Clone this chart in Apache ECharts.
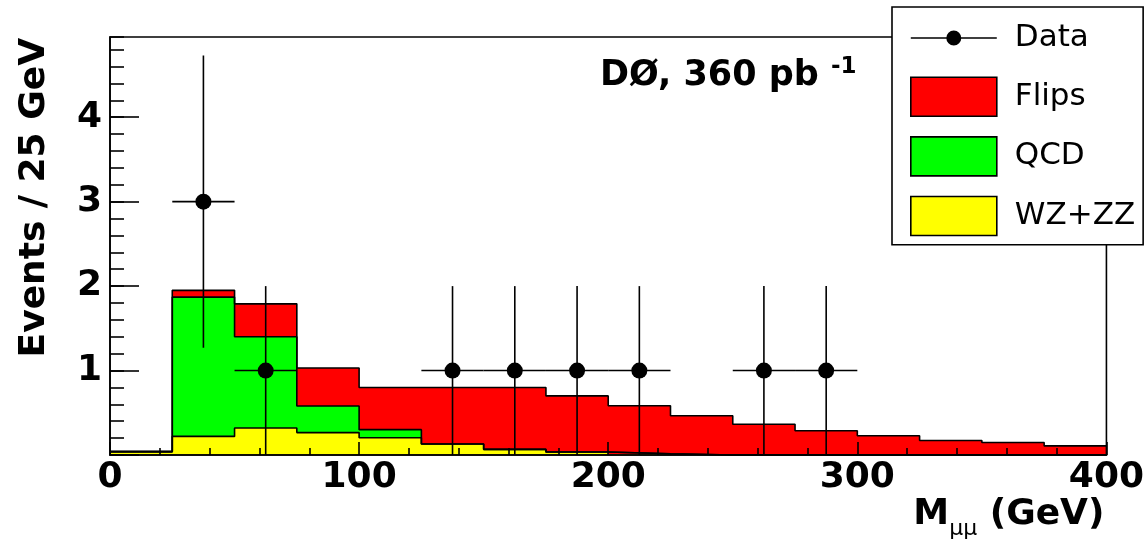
<!DOCTYPE html>
<html><head><meta charset="utf-8">
<script src="https://cdn.jsdelivr.net/npm/echarts@6/dist/echarts.min.js"></script>
<style>html,body{margin:0;padding:0;background:#fff}#c{width:1147px;height:549px}</style>
</head><body><div id="c"></div>
<script>
// ---- data ----
const binEdges = [0,25,50,75,100,125,150,175,200,225,250,275,300,325,350,375,400];
const wzzz  = [0.04,0.22,0.32,0.265,0.205,0.13,0.067,0.035,0.015,0,0,0,0,0,0,0];
const qcd   = [0,1.65,1.08,0.315,0.095,0,0,0,0,0,0,0,0,0,0,0];
const flips = [0,0.08,0.39,0.45,0.50,0.67,0.733,0.665,0.569,0.464,0.364,0.288,0.228,0.172,0.148,0.108];
const dataX = [37.5,62.5,137.5,162.5,187.5,212.5,262.5,287.5];
const dataY = [3,1,1,1,1,1,1,1];
const dataErrLow  = [1.73,1,1,1,1,1,1,1];
const dataErrHigh = [1.73,1,1,1,1,1,1,1];
const xTicks = [0,100,200,300,400];
const yTicks = [1,2,3,4];
const binHalfWidth = 12.5;

const FONT = 'DejaVu Sans';

// ---- derived ----
const layers = [
  {name:'WZ+ZZ', vals:wzzz, color:'#ffff00'},
  {name:'QCD', vals:qcd, color:'#00ff00'},
  {name:'Flips', vals:flips, color:'#ff0000'}
];
let cum = binEdges.slice(0,-1).map(()=>0);
const series = [];
layers.forEach((L,k)=>{
  const items = [];
  const tops = [];
  for (let i=0;i<L.vals.length;i++){
    const base = cum[i], top = cum[i]+L.vals[i];
    items.push([binEdges[i], binEdges[i+1], base, top]);
    tops.push(top);
  }
  cum = tops;
  series.push({
    name:L.name, type:'custom', z:2, clip:true,
    itemStyle:{color:L.color},
    encode:{x:[0,1], y:[2,3]},
    renderItem:(params, api)=>{
      const p0 = api.coord([api.value(0), api.value(3)]);
      const p1 = api.coord([api.value(1), api.value(2)]);
      const x0 = Math.round(p0[0]), x1 = Math.round(p1[0]);
      const y0 = Math.round(p0[1]), y1 = Math.round(p1[1]);
      return {type:'rect', shape:{x:x0, y:y0, width:x1-x0, height:y1-y0},
              style:{fill:api.visual('color'), stroke:null}};
    },
    data:items
  });
  const stepPts = tops.map((t,i)=>[binEdges[i], t]);
  stepPts.push([binEdges[binEdges.length-1], tops[tops.length-1]]);
  series.push({
    name:L.name+' outline', type:'line', step:'end', z:3, silent:true,
    symbol:'none', lineStyle:{color:'#000', width:1.6}, data:stepPts
  });
});

series.push({
  name:'Data errors', type:'custom', z:4, silent:true,
  encode:{x:0, y:1},
  renderItem:(params, api)=>{
    const x = api.value(0), y = api.value(1), lo = api.value(2), hi = api.value(3), hw = api.value(4);
    const a = api.coord([x, y-lo]), b = api.coord([x, y+hi]);
    const c = api.coord([x-hw, y]), d = api.coord([x+hw, y]);
    const st = {stroke:'#000', lineWidth:1.6};
    return {type:'group', children:[
      {type:'line', shape:{x1:a[0], y1:a[1], x2:b[0], y2:b[1]}, style:st},
      {type:'line', shape:{x1:c[0], y1:c[1], x2:d[0], y2:d[1]}, style:st}
    ]};
  },
  data:dataX.map((x,i)=>[x, dataY[i], dataErrLow[i], dataErrHigh[i], binHalfWidth])
});
series.push({
  name:'Data', type:'scatter', z:5, symbol:'circle', symbolSize:16,
  itemStyle:{color:'#000', opacity:1},
  data:dataX.map((x,i)=>[x, dataY[i]])
});

const dataIcon = 'path://M0 0h0.01v0.01h-0.01z M86 38.99h0.01v0.01h-0.01z M0 18.7h36v1.6h-36z M50 18.7h36v1.6h-36z M35.5 19.5a7.5 7.5 0 1 1 15 0a7.5 7.5 0 1 1 -15 0z';

const chart = echarts.init(document.getElementById('c'), null, {renderer:'canvas'});
chart.setOption({
  animation:false,
  backgroundColor:'#fff',
  grid:{left:110, right:35, top:37, bottom:94, show:true, z:10, borderColor:'#000', borderWidth:1.6, backgroundColor:'transparent'},
  xAxis:{
    type:'value', min:0, max:400, interval:100, z:10,
    axisLine:{show:true, onZero:false, lineStyle:{color:'#000', width:1.6}},
    axisTick:{show:true, inside:true, length:13, lineStyle:{color:'#000', width:1.6}},
    minorTick:{show:true, splitNumber:5, length:7, lineStyle:{color:'#000', width:1.6}},
    splitLine:{show:false},
    axisLabel:{fontFamily:FONT, fontSize:36, fontWeight:'bold', color:'#000', margin:5,
      formatter:v=> xTicks.indexOf(v)>=0 ? String(v) : ''},
    name:'{b|M}{s|μμ}{b| (GeV)}', nameLocation:'end', nameGap:-2,
    nameTextStyle:{align:'right', verticalAlign:'top', padding:[35,0,0,0],
      rich:{
        b:{fontFamily:FONT, fontSize:36, fontWeight:'bold', color:'#000', lineHeight:50},
        s:{fontFamily:FONT, fontSize:22, fontWeight:'normal', color:'#000', lineHeight:21, verticalAlign:'bottom'}
      }}
  },
  yAxis:[{
    type:'value', min:0, max:4.95, interval:1, z:10,
    axisLine:{show:true, onZero:false, lineStyle:{color:'#000', width:1.6}},
    axisTick:{show:true, inside:true, length:29, lineStyle:{color:'#000', width:1.6}},
    splitLine:{show:false},
    axisLabel:{fontFamily:FONT, fontSize:36, fontWeight:'bold', color:'#000', margin:8, showMaxLabel:false,
      formatter:v=> yTicks.indexOf(v)>=0 ? String(v) : ''},
    name:'Events / 25 GeV', nameLocation:'end', nameRotate:90, nameGap:-1,
    nameTextStyle:{fontFamily:FONT, fontSize:36, fontWeight:'bold', color:'#000', align:'right', verticalAlign:'bottom', padding:[0,0,57,0]}
  },{
    type:'value', min:0, max:4.95, interval:0.2, z:10, position:'left',
    axisLine:{show:false},
    axisTick:{show:true, inside:true, length:14, lineStyle:{color:'#000', width:1.6}},
    axisLabel:{show:false}, splitLine:{show:false}
  }],
  legend:{
    orient:'vertical', left:892, top:7, padding:[11.5,8,8.5,18], z:20,
    itemWidth:86, itemHeight:39, itemGap:19, selectedMode:false,
    backgroundColor:'#fff', borderColor:'#000', borderWidth:1.6,
    textStyle:{fontFamily:FONT, fontSize:31, color:'#000', padding:[0,0,0,13]},
    itemStyle:{borderColor:'#000', borderWidth:1.6},
    data:[
      {name:'Data', icon:dataIcon, itemStyle:{borderWidth:0, opacity:1}},
      {name:'Flips', icon:'rect'},
      {name:'QCD', icon:'rect'},
      {name:'WZ+ZZ', icon:'rect'}
    ]
  },
  graphic:[{
    type:'text', left:600, top:56, z:30,
    style:{
      text:'{a|DØ, 360 pb }{sup|-1}',
      rich:{
        a:{fontFamily:FONT, fontSize:35, fontWeight:'bold', fill:'#000', lineHeight:40},
        sup:{fontFamily:FONT, fontSize:23, fontWeight:'bold', fill:'#000', lineHeight:22, verticalAlign:'top'}
      }
    }
  }],
  series:series
});
</script>
</body></html>
